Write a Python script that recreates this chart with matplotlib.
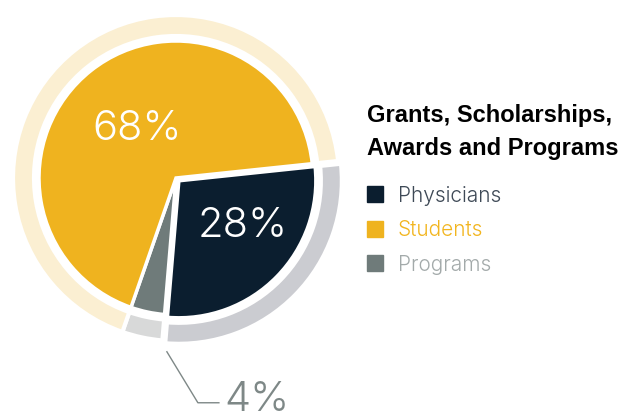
import matplotlib
matplotlib.use("Agg")
import matplotlib.pyplot as plt
import numpy as np

categories = ["Physicians", "Programs", "Students"]
values = [28, 4, 68]
inner_colors = ["#0B1E2F", "#6F7B7A", "#EFB31F"]
ring_colors = ["#CBCCD1", "#D8D9D9", "#FBEFD2"]
legend_order = ["Physicians", "Students", "Programs"]
legend_text_colors = {"Physicians": "#3E4956", "Students": "#F2B51E", "Programs": "#A3AAAA"}
title_lines = ["Grants, Scholarships,", "Awards and Programs"]

W, H = 623, 416
fig = plt.figure(figsize=(W / 100, H / 100), dpi=100)
cx, cy = 176, 178
half = 172
ax = fig.add_axes([(cx - half) / W, (H - cy - half) / H, 2 * half / W, 2 * half / H])

light = "Inter"
startangle = 6
explode_in = [4, 0, 0]

ax.pie(values, radius=163, colors=ring_colors, startangle=startangle, counterclock=False,
       explode=explode_in, wedgeprops=dict(width=21, edgecolor="white", linewidth=3))
ax.pie(values, radius=137, colors=inner_colors, startangle=startangle, counterclock=False,
       explode=explode_in, wedgeprops=dict(edgecolor="white", linewidth=2.5))
ax.set_xlim(-half, half)
ax.set_ylim(-half, half)
ax.set_aspect("equal")
ax.axis("off")

fr = np.array(values) / sum(values) * 360
starts = startangle - np.concatenate([[0], np.cumsum(fr)[:-1]])
mids = starts - fr / 2

def polar(r, ang):
    a = np.deg2rad(ang)
    return r * np.cos(a), r * np.sin(a)

x, y = polar(62, mids[2])
ax.text(x, y, f"{values[2]}%", color="white", fontsize=30, family=light, fontweight=300,
        ha="center", va="center")
x, y = polar(82, mids[0] + 9)
ax.text(x, y, f"{values[0]}%", color="white", fontsize=30, family=light, fontweight=300,
        ha="center", va="center")

# leader line for small slice
x0, y0 = polar(174, mids[1] + 9)
ax.plot([x0, x0 + 31, x0 + 52], [y0, y0 - 51, y0 - 51], color="#7E8887", lw=1, clip_on=False)
ax.text(x0 + 57, y0 - 59, f"{values[1]}%", color="#7E8887", fontsize=30, family=light,
        fontweight=300, ha="left", va="baseline", clip_on=False)

# title
fig.text(367 / W, 1 - 122 / H, title_lines[0], fontsize=17, fontweight="bold",
         family="Liberation Sans", color="black", va="baseline", ha="left")
fig.text(367 / W, 1 - 155 / H, title_lines[1], fontsize=17, fontweight="bold",
         family="Liberation Sans", color="black", va="baseline", ha="left")

# legend
color_map = dict(zip(categories, inner_colors))
for i, name in enumerate(legend_order):
    top = 186 + i * 34.5
    fig.patches.append(plt.Rectangle((367 / W, 1 - (top + 16) / H), 16 / W, 16 / H,
                                     transform=fig.transFigure, color=color_map[name]))
    fig.text(398 / W, 1 - (top + 16) / H, name, fontsize=15, family=light, fontweight=300,
             color=legend_text_colors[name], va="baseline", ha="left")

fig.savefig("out.png", dpi=100)
